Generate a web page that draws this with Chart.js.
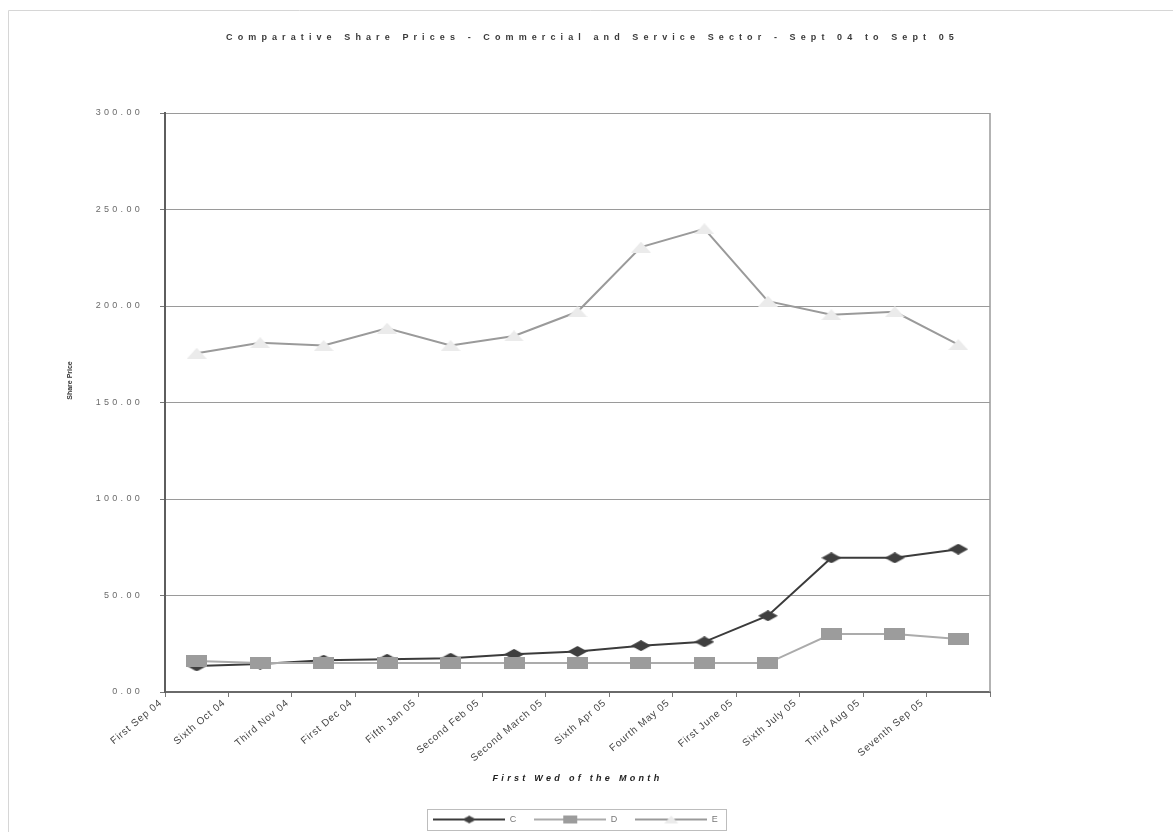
<!DOCTYPE html>
<html>
<head>
<meta charset="utf-8">
<script src="https://cdn.jsdelivr.net/npm/chart.js@4.4.1/dist/chart.umd.min.js"></script>
<style>
  html, body { margin: 0; padding: 0; background: #ffffff; }
  #wrap { width: 1173px; height: 832px; position: relative; }
</style>
</head>
<body>
<div id="wrap"><canvas id="chart" width="1173" height="832"></canvas></div>
<script>
// Weekly sample dates (first Wednesday of each month)
const categories = [
  'First Sep 04', 'Sixth Oct 04', 'Third Nov 04', 'First Dec 04', 'Fifth Jan 05',
  'Second Feb 05', 'Second March 05', 'Sixth Apr 05', 'Fourth May 05', 'First June 05',
  'Sixth July 05', 'Third Aug 05', 'Seventh Sep 05'
];

// Share prices per company
const seriesC = [13.5, 14.5, 16.5, 17, 17.5, 19.5, 21, 24, 26, 39.5, 69.5, 69.5, 74];
const seriesD = [16, 15, 15, 15, 15, 15, 15, 15, 15, 15, 30, 30, 27.5];
const seriesE = [175.5, 181, 179.5, 188.5, 179.5, 184.5, 197, 230.5, 240, 202.5, 195.5, 197, 180];

const seriesNames = ['C', 'D', 'E'];
const yMin = 0;
const yMax = 300;
const yStep = 50;

const FONT = "'Liberation Sans', Arial, sans-serif";

// Small canvas markers (flattened diamond, block, triangle)
function makeMarker(shape, w, h, fill) {
  const c = document.createElement('canvas');
  c.width = w; c.height = h;
  const g = c.getContext('2d');
  g.fillStyle = fill;
  g.beginPath();
  if (shape === 'diamond') {
    g.moveTo(w / 2, 0); g.lineTo(w, h / 2); g.lineTo(w / 2, h); g.lineTo(0, h / 2);
  } else if (shape === 'rect') {
    g.rect(0, 0, w, h);
  } else {
    g.moveTo(w / 2, 0); g.lineTo(w, h); g.lineTo(0, h);
  }
  g.closePath();
  g.fill();
  return c;
}

// Legend swatch: a line segment with the marker in the middle
function makeSwatch(lineColor, marker) {
  const w = 72, h = 14;
  const c = document.createElement('canvas');
  c.width = w; c.height = h;
  const g = c.getContext('2d');
  g.strokeStyle = lineColor;
  g.lineWidth = 2;
  g.beginPath(); g.moveTo(0, h / 2); g.lineTo(w, h / 2); g.stroke();
  const mw = marker.width * 0.7, mh = marker.height * 0.7;
  g.drawImage(marker, (w - mw) / 2, (h - mh) / 2, mw, mh);
  return c;
}

const styles = [
  { line: '#3b3b3b', marker: makeMarker('diamond', 20, 11, '#3f3f3f'), order: 3 },
  { line: '#ababab', marker: makeMarker('rect', 21, 12, '#9c9c9c'), order: 2 },
  { line: '#9a9a9a', marker: makeMarker('triangle', 20, 11, '#ebebeb'), order: 1 }
];
const swatches = styles.map(s => makeSwatch(s.line, s.marker));

const values = [seriesC, seriesD, seriesE];
const datasets = values.map((v, i) => ({
  label: seriesNames[i],
  data: v,
  borderColor: styles[i].line,
  borderWidth: 2,
  pointStyle: styles[i].marker,
  pointRadius: 6,
  pointHoverRadius: 6,
  tension: 0,
  fill: false,
  order: styles[i].order
}));

// Wraps a drawing method of a chart element with letter spacing and a small shift
function spaced(obj, method, spacing, dx, dy) {
  if (!obj || obj['__sp_' + method]) return;
  const orig = obj[method];
  obj[method] = function () {
    const ctx = this.ctx || this.chart.ctx;
    ctx.save();
    ctx.letterSpacing = spacing;
    ctx.translate(dx || 0, dy || 0);
    const r = orig.apply(this, arguments);
    ctx.restore();
    return r;
  };
  obj['__sp_' + method] = true;
}

const decorations = {
  id: 'decorations',
  beforeDraw(chart) {
    const ctx = chart.ctx;
    ctx.save();
    ctx.fillStyle = '#ffffff';
    ctx.fillRect(0, 0, chart.width, chart.height);
    ctx.strokeStyle = '#d6d6d6';
    ctx.lineWidth = 1;
    ctx.beginPath();
    ctx.moveTo(8.5, chart.height);
    ctx.lineTo(8.5, 10.5);
    ctx.lineTo(chart.width, 10.5);
    ctx.stroke();
    ctx.restore();
  },
  afterUpdate(chart) {
    spaced(chart.titleBlock, 'draw', '5.1px', 15, 0);
    spaced(chart.legend, 'draw', '0px', -2, 2);
    spaced(chart.scales.y, 'drawLabels', '3.3px');
    spaced(chart.scales.y, 'drawTitle', '0px', 0, -22);
    spaced(chart.scales.x, 'drawLabels', '0.8px');
    spaced(chart.scales.x, 'drawTitle', '3.3px');
  },
  beforeDatasetsDraw(chart) {
    // right edge of the plot area
    const a = chart.chartArea;
    const ctx = chart.ctx;
    ctx.save();
    ctx.strokeStyle = '#9a9a9a';
    ctx.lineWidth = 1.5;
    ctx.beginPath();
    ctx.moveTo(a.right, a.top);
    ctx.lineTo(a.right, a.bottom);
    ctx.stroke();
    ctx.restore();
  },
  afterDraw(chart) {
    // frame round the legend entries
    const boxes = chart.legend && chart.legend.legendHitBoxes;
    if (!boxes || !boxes.length) return;
    let l = Infinity, r = -Infinity, t = Infinity, b = -Infinity;
    boxes.forEach(h => {
      l = Math.min(l, h.left); r = Math.max(r, h.left + h.width);
      t = Math.min(t, h.top); b = Math.max(b, h.top + h.height);
    });
    const ctx = chart.ctx;
    ctx.save();
    ctx.translate(-2, 2);
    ctx.strokeStyle = '#bdbdbd';
    ctx.lineWidth = 1;
    ctx.strokeRect(Math.round(l - 6) + 0.5, Math.round(t - 6) + 0.5, Math.round(r - l + 14), Math.round(b - t + 12));
    ctx.restore();
  }
};

new Chart(document.getElementById('chart'), {
  type: 'line',
  data: { labels: categories, datasets },
  plugins: [decorations],
  options: {
    responsive: false,
    animation: false,
    devicePixelRatio: 1,
    layout: { padding: { left: 0, right: 183, top: 0, bottom: 0 } },
    plugins: {
      tooltip: { enabled: false },
      title: {
        display: true,
        fullSize: false,
        text: 'Comparative Share Prices - Commercial and Service Sector - Sept 04 to Sept 05',
        color: '#3a3a3a',
        font: { family: FONT, size: 9, weight: 'bold', lineHeight: 1.2 },
        padding: { top: 32, bottom: 70.2 }
      },
      legend: {
        display: true,
        position: 'bottom',
        fullSize: false,
        labels: {
          usePointStyle: true,
          pointStyleWidth: 72,
          padding: 18,
          color: '#777777',
          font: { family: FONT, size: 9 },
          generateLabels(chart) {
            return chart.data.datasets.map((ds, i) => ({
              text: ds.label,
              pointStyle: swatches[i],
              fillStyle: 'transparent',
              strokeStyle: 'transparent',
              lineWidth: 0,
              fontColor: '#777777',
              hidden: false,
              datasetIndex: i
            }));
          }
        }
      }
    },
    scales: {
      x: {
        type: 'category',
        offset: true,
        afterFit(scale) { scale.height = 103; },
        grid: {
          display: true,
          offset: true,
          drawOnChartArea: false,
          drawTicks: true,
          tickLength: 5,
          tickColor: '#777777'
        },
        border: { display: true, color: '#6a6a6a', width: 2 },
        ticks: {
          autoSkip: false,
          minRotation: 40,
          maxRotation: 40,
          labelOffset: -36,
          padding: 0,
          color: '#444444',
          font: { family: FONT, size: 10 }
        },
        title: {
          display: true,
          text: 'First Wed of the Month',
          color: '#222222',
          font: { family: FONT, size: 9, weight: 'bold', style: 'italic' },
          padding: { top: 0, bottom: 11 }
        }
      },
      y: {
        min: yMin,
        max: yMax,
        afterFit(scale) { scale.width = 165; },
        grid: {
          color: '#9a9a9a',
          lineWidth: 1,
          drawTicks: true,
          tickLength: 5,
          tickColor: '#777777'
        },
        border: { display: true, color: '#5e5e5e', width: 2 },
        ticks: {
          stepSize: yStep,
          padding: 17,
          color: '#6a6a6a',
          font: { family: FONT, size: 9 },
          callback: v => Number(v).toFixed(2)
        },
        title: {
          display: true,
          text: 'Share Price',
          color: '#333333',
          font: { family: FONT, size: 7, weight: 'bold' },
          padding: { top: 66, bottom: 0 }
        }
      }
    }
  }
});
</script>
</body>
</html>
